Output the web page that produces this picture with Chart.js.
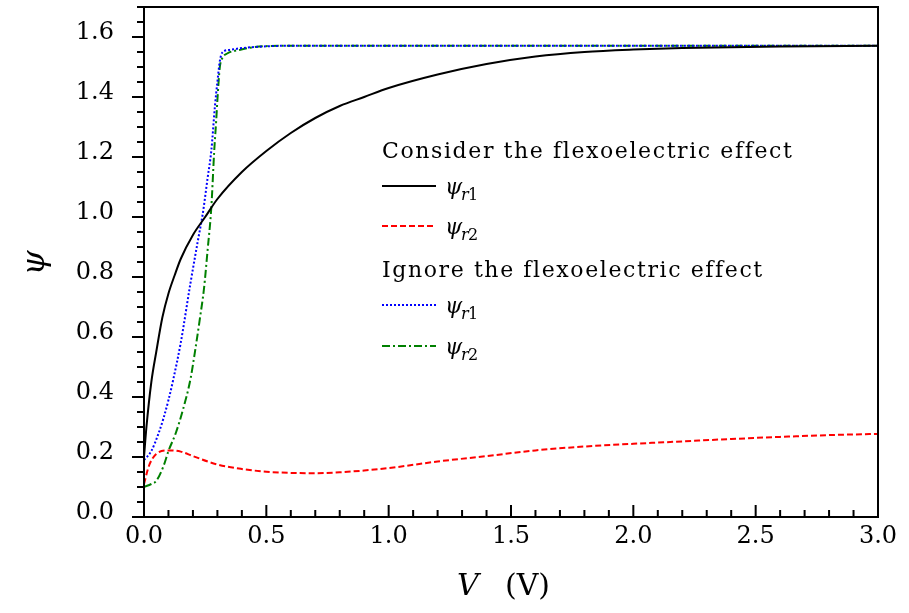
<!DOCTYPE html>
<html>
<head>
<meta charset="utf-8">
<script src="https://cdn.jsdelivr.net/npm/chart.js@4.4.1/dist/chart.umd.min.js"></script>
<style>
  body { margin: 0; background: #fff; }
  #wrap { width: 909px; height: 613px; }
</style>
</head>
<body>
<div id="wrap"><canvas id="psiChart"></canvas></div>
<script>
// Với hiệu ứng flexoelectric (consider)
const consV1 = [0, 0.01, 0.03, 0.05, 0.075, 0.1, 0.125, 0.15, 0.2, 0.25, 0.3, 0.4, 0.5, 0.6, 0.7, 0.8, 0.9, 1.0, 1.2, 1.4, 1.6, 1.8, 2.0, 2.2, 2.4, 2.6, 3.0];
const consPsi1 = [0.2, 0.3, 0.45, 0.55, 0.665, 0.745, 0.805, 0.86, 0.94, 1.0, 1.06, 1.15, 1.22, 1.28, 1.33, 1.37, 1.40, 1.43, 1.475, 1.51, 1.535, 1.55, 1.558, 1.563, 1.566, 1.568, 1.5708];

const consV2 = [0, 0.02, 0.05, 0.1, 0.15, 0.2, 0.3, 0.4, 0.5, 0.6, 0.7, 0.8, 0.9, 1.0, 1.2, 1.4, 1.6, 1.8, 2.0, 2.2, 2.4, 2.6, 2.8, 3.0];
const consPsi2 = [0.11, 0.17, 0.21, 0.222, 0.218, 0.203, 0.175, 0.16, 0.151, 0.147, 0.146, 0.149, 0.155, 0.163, 0.185, 0.203, 0.222, 0.235, 0.244, 0.252, 0.26, 0.267, 0.273, 0.277];

// Bỏ qua hiệu ứng flexoelectric (ignore)
const ignV1 = [0, 0.03, 0.06, 0.08, 0.1, 0.12, 0.15, 0.19, 0.22, 0.24, 0.26, 0.275, 0.29, 0.3, 0.31, 0.32, 0.35, 0.4, 0.5, 0.6, 3.0];
const ignPsi1 = [0.19, 0.22, 0.28, 0.33, 0.39, 0.46, 0.58, 0.78, 0.92, 1.01, 1.13, 1.22, 1.37, 1.45, 1.52, 1.548, 1.557, 1.563, 1.569, 1.5708, 1.5708];

const ignV2 = [0, 0.03, 0.05, 0.08, 0.1, 0.13, 0.16, 0.19, 0.21, 0.23, 0.245, 0.26, 0.275, 0.287, 0.295, 0.3, 0.31, 0.32, 0.34, 0.39, 0.47, 0.6, 3.0];
const ignPsi2 = [0.10, 0.11, 0.12, 0.17, 0.22, 0.28, 0.36, 0.46, 0.56, 0.67, 0.76, 0.89, 1.03, 1.22, 1.32, 1.39, 1.50, 1.53, 1.545, 1.557, 1.568, 1.5708, 1.5708];

// Nhãn trục
const xTicks = [0, 0.5, 1.0, 1.5, 2.0, 2.5, 3.0];
const yTicks = [0, 0.2, 0.4, 0.6, 0.8, 1.0, 1.2, 1.4, 1.6];

const SERIF = '"DejaVu Serif", "Liberation Serif", serif';

function toPoints(xs, ys) {
    return xs.map((x, i) => ({ x: x, y: ys[i] }));
}

const datasets = [
    { label: 'r1', data: toPoints(consV1, consPsi1), borderColor: '#000000', borderDash: [] },
    { label: 'r2', data: toPoints(consV2, consPsi2), borderColor: '#ff0000', borderDash: [6, 3] },
    { label: 'r1', data: toPoints(ignV1, ignPsi1), borderColor: '#0000ff', borderDash: [2, 2] },
    { label: 'r2', data: toPoints(ignV2, ignPsi2), borderColor: '#008000', borderDash: [8, 3, 2, 3] }
].map(d => Object.assign(d, {
    borderWidth: 2,
    pointRadius: 0,
    fill: false,
    cubicInterpolationMode: 'monotone'
}));

// Vẽ khung, vạch chia, chú thích và tiêu đề trục
const decorPlugin = {
    id: 'decor',
    afterDatasetsDraw(chart) {
        const ctx = chart.ctx;
        const a = chart.chartArea;
        const xs = chart.scales.x;
        const ys = chart.scales.y;
        ctx.save();
        ctx.strokeStyle = '#000';
        ctx.lineWidth = 2;
        ctx.setLineDash([]);
        ctx.strokeRect(a.left, a.top, a.right - a.left, a.bottom - a.top);

        // vạch trục x (hướng vào trong)
        ctx.beginPath();
        for (let i = 0; i <= 30; i++) {
            const px = xs.getPixelForValue(i / 10);
            const len = (i % 5 === 0) ? 12 : 7;
            ctx.moveTo(px, a.bottom);
            ctx.lineTo(px, a.bottom - len);
        }
        // vạch trục y (hướng ra ngoài)
        for (let i = 0; i <= 34; i++) {
            const py = ys.getPixelForValue(i / 20);
            const len = (i % 4 === 0) ? 12 : 7;
            ctx.moveTo(a.left, py);
            ctx.lineTo(a.left - len, py);
        }
        ctx.stroke();

        // chú thích
        ctx.fillStyle = '#000';
        ctx.textBaseline = 'alphabetic';
        ctx.textAlign = 'left';
        ctx.font = '22px ' + SERIF;
        ctx.letterSpacing = '1.6px';
        ctx.fillText('Consider the flexoelectric effect', 382, 158);
        ctx.fillText('Ignore the flexoelectric effect', 382, 277);
        ctx.letterSpacing = '0px';

        const rows = [186, 226, 305, 346];
        chart.data.datasets.forEach((ds, i) => {
            const y = rows[i];
            ctx.strokeStyle = ds.borderColor;
            ctx.lineWidth = 2;
            ctx.setLineDash(ds.borderDash);
            ctx.beginPath();
            ctx.moveTo(382, y);
            ctx.lineTo(436, y);
            ctx.stroke();
            ctx.setLineDash([]);
            ctx.font = 'italic 22px ' + SERIF;
            ctx.fillText('\u03C8', 445, y + 8);
            ctx.font = 'italic 16px ' + SERIF;
            ctx.fillText('r', 461, y + 14);
            ctx.font = '16px ' + SERIF;
            ctx.fillText(ds.label.slice(1), 468, y + 14);
        });

        // tiêu đề trục x
        ctx.font = 'italic 30px ' + SERIF;
        ctx.fillText('V', 457, 595);
        ctx.font = '30px ' + SERIF;
        ctx.fillText('(V)', 505, 595);

        // tiêu đề trục y
        ctx.translate(36, 263);
        ctx.rotate(-Math.PI / 2);
        ctx.textAlign = 'center';
        ctx.textBaseline = 'middle';
        ctx.font = 'italic 32px ' + SERIF;
        ctx.fillText('\u03C8', 0, 0);
        ctx.restore();
    }
};

const ctx = document.getElementById('psiChart').getContext('2d');
const psiChart = new Chart(ctx, {
    type: 'line',
    data: { datasets: datasets },
    options: {
        responsive: true,
        maintainAspectRatio: false,
        animation: false,
        layout: { padding: { top: 7, right: 31, left: 0, bottom: 0 } },
        plugins: {
            legend: { display: false },
            tooltip: { enabled: false }
        },
        scales: {
            x: {
                type: 'linear',
                min: 0,
                max: 3,
                afterBuildTicks: scale => { scale.ticks = xTicks.map(v => ({ value: v })); },
                afterFit: scale => {
                    scale.height = 96;
                    scale.paddingLeft = 0;
                    scale.paddingRight = 0;
                },
                grid: { display: false },
                border: { display: false },
                ticks: {
                    padding: 0,
                    color: '#000',
                    font: { family: SERIF, size: 24, lineHeight: 1 },
                    callback: v => v.toFixed(1)
                }
            },
            y: {
                type: 'linear',
                min: 0,
                max: 1.7,
                afterBuildTicks: scale => { scale.ticks = yTicks.map(v => ({ value: v })); },
                afterFit: scale => {
                    scale.width = 144;
                    scale.paddingTop = 0;
                    scale.paddingBottom = 0;
                },
                grid: { display: false },
                border: { display: false },
                ticks: {
                    padding: 22,
                    labelOffset: -4,
                    color: '#000',
                    font: { family: SERIF, size: 24 },
                    callback: v => v.toFixed(1)
                }
            }
        }
    },
    plugins: [decorPlugin]
});
</script>
</body>
</html>
